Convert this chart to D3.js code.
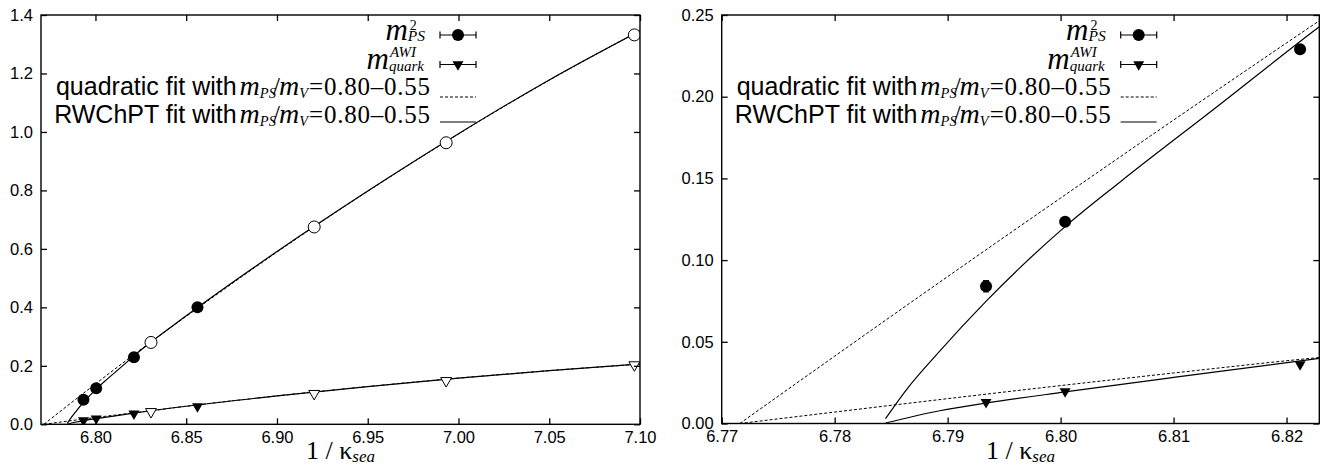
<!DOCTYPE html>
<html>
<head>
<meta charset="utf-8">
<script src="https://cdn.jsdelivr.net/npm/d3@7"></script>
<style>
  body { margin: 0; background: #fff; }
  svg { display: block; }
</style>
</head>
<body>
<svg id="chart" width="1337" height="466"></svg>
<script>
// ---- ensembles inside the fit range (filled symbols) ----
const kappaFit   = [6.7934, 6.8004, 6.8212, 6.8562];   // 1/kappa_sea
const mps2Fit    = [0.084, 0.1235, 0.229, 0.4004];
const mps2FitErr = [0.0035, 0.0018, 0.0018, 0.003];
const mqFit      = [0.0130, 0.0197, 0.0362, 0.0610];
const mqFitErr   = [0.0008, 0.0006, 0.0006, 0.0008];

// ---- heavier ensembles outside the fit range (open symbols) ----
const kappaOut = [6.8306, 6.9205, 6.9932, 7.0969];
const mps2Out  = [0.280, 0.675, 0.963, 1.332];
const mqOut    = [0.043, 0.105, 0.149, 0.203];

// ---- fit curves ----
const quadPsX = [6.7716, 6.78, 6.79, 6.80, 6.81, 6.82, 6.8229, 6.85, 6.90, 6.95, 7.00, 7.05, 7.10];
const quadPsY = [0.0, 0.0412, 0.0899, 0.1380, 0.1857, 0.2329, 0.2465, 0.369, 0.589, 0.797, 0.993, 1.177, 1.346];
const rwPsX   = [6.7845, 6.7865, 6.7890, 6.7935, 6.8004, 6.8053, 6.8135, 6.8229, 6.85, 6.90, 6.95, 7.00, 7.05, 7.10];
const rwPsY   = [0.003, 0.022, 0.042, 0.0755, 0.1205, 0.148, 0.192, 0.2428, 0.371, 0.591, 0.798, 0.994, 1.178, 1.346];
const quadMqX = [6.7716, 6.78, 6.79, 6.80, 6.81, 6.82, 6.8229, 6.85, 6.90, 6.95, 7.00, 7.05, 7.10];
const quadMqY = [0.0, 0.0070, 0.0152, 0.0232, 0.0309, 0.0384, 0.0404, 0.0619, 0.0971, 0.1292, 0.1580, 0.1835, 0.2060];
const rwMqX   = [6.7845, 6.7893, 6.7935, 6.8004, 6.8100, 6.8229, 6.85, 6.90, 6.95, 7.00, 7.05, 7.10];
const rwMqY   = [0.0003, 0.0078, 0.0126, 0.0193, 0.0282, 0.0398, 0.0617, 0.0970, 0.1291, 0.1579, 0.1834, 0.2060];

// ---- tick values ----
const leftXTicks  = [6.80, 6.85, 6.90, 6.95, 7.00, 7.05, 7.10];
const leftYTicks  = [0.0, 0.2, 0.4, 0.6, 0.8, 1.0, 1.2, 1.4];
const rightXTicks = [6.77, 6.78, 6.79, 6.80, 6.81, 6.82];
const rightYTicks = [0.00, 0.05, 0.10, 0.15, 0.20, 0.25];

// ---- legend text ----
const fitRange = "=0.80\u20130.55";
const quadLabel = "quadratic fit with";
const rwLabel = "RWChPT fit with";

const SERIF = "'Liberation Serif','Times New Roman',serif";
const SANS  = "'Liberation Sans',Arial,Helvetica,sans-serif";

const svg = d3.select("#chart");

const panels = [
  { id: "L", left: 41, right: 640, top: 15, bottom: 424.3,
    xDom: [6.77, 7.10], yDom: [0, 1.4], xTicks: leftXTicks, yTicks: leftYTicks,
    yFmt: d3.format(".1f") },
  { id: "R", left: 721.7, right: 1319.3, top: 15, bottom: 423.5,
    xDom: [6.77, 6.8229], yDom: [0, 0.25], xTicks: rightXTicks, yTicks: rightYTicks,
    yFmt: d3.format(".2f") }
];

const zip = (xs, ys) => xs.map((x, i) => [x, ys[i]]);

// Lay out a run of text pieces left to right, then right-align the run at xEnd.
function richText(g, pieces, xEnd, baseline) {
  const run = g.append("g");
  let cx = 0;
  const put = (p, x0) => {
    const t = run.append("text")
      .attr("x", x0).attr("y", p.shift || 0)
      .attr("font-family", p.family || SERIF)
      .attr("font-size", p.size)
      .attr("font-style", p.italic ? "italic" : "normal")
      .attr("fill", "#000")
      .text(p.t);
    if (p.len) t.attr("textLength", p.len).attr("lengthAdjust", "spacing");
    return p.len || t.node().getComputedTextLength();
  };
  pieces.forEach(p => {
    if (p.stack) {
      let w = 0;
      p.stack.forEach(s => { w = Math.max(w, put(s, cx + (s.dx || 0)) + (s.dx || 0)); });
      cx += w;
    } else {
      cx += (p.dx || 0);
      cx += put(p, cx);
    }
  });
  run.attr("transform", `translate(${xEnd - cx},${baseline})`);
}

function massRatio(prefix) {
  return [
    { t: prefix, size: 25, family: SANS },
    { t: "m", size: 28, italic: true, dx: 3 },
    { t: "PS", size: 14.5, italic: true, shift: 3 },
    { t: "/", size: 25, dx: -3 },
    { t: "m", size: 28, italic: true, dx: -1 },
    { t: "V", size: 14.5, italic: true, shift: 3 },
    { t: fitRange, size: 25, dx: 1, len: 121 }
  ];
}

panels.forEach(P => {
  const x = d3.scaleLinear().domain(P.xDom).range([P.left, P.right]);
  const y = d3.scaleLinear().domain(P.yDom).range([P.bottom, P.top]);
  const g = svg.append("g");

  const clipId = "clip" + P.id;
  svg.append("clipPath").attr("id", clipId)
    .append("rect")
    .attr("x", P.left).attr("y", P.top)
    .attr("width", P.right - P.left).attr("height", P.bottom - P.top);

  const plot = g.append("g").attr("clip-path", `url(#${clipId})`);
  const line = d3.line().x(d => x(d[0])).y(d => y(d[1])).curve(d3.curveMonotoneX);

  const curves = [
    { pts: zip(quadPsX, quadPsY), dash: "3,2" },
    { pts: zip(quadMqX, quadMqY), dash: "3,2" },
    { pts: zip(rwPsX, rwPsY), dash: null },
    { pts: zip(rwMqX, rwMqY), dash: null }
  ];
  curves.forEach(c => {
    plot.append("path").datum(c.pts)
      .attr("d", line)
      .attr("fill", "none")
      .attr("stroke", "#000")
      .attr("stroke-width", c.dash ? 1 : 1.2)
      .attr("stroke-dasharray", c.dash);
  });

  const inX = v => v >= P.xDom[0] && v <= P.xDom[1];
  const circle = d3.symbol().type(d3.symbolCircle).size(Math.PI * 36);
  const tri = d3.symbol().type(d3.symbolTriangle).size(52);

  // error bars
  const errs = [];
  kappaFit.forEach((k, i) => {
    errs.push([k, mps2Fit[i], mps2FitErr[i]]);
    errs.push([k, mqFit[i], mqFitErr[i]]);
  });
  plot.selectAll(null).data(errs.filter(d => inX(d[0]))).join("path")
    .attr("d", d => {
      const cx = x(d[0]), y0 = y(d[1] - d[2]), y1 = y(d[1] + d[2]);
      return `M${cx},${y0}V${y1}M${cx - 3},${y0}H${cx + 3}M${cx - 3},${y1}H${cx + 3}`;
    })
    .attr("stroke", "#000").attr("stroke-width", 1).attr("fill", "none");

  // open symbols
  plot.selectAll(null).data(zip(kappaOut, mps2Out).filter(d => inX(d[0]))).join("path")
    .attr("d", circle)
    .attr("transform", d => `translate(${x(d[0])},${y(d[1])})`)
    .attr("fill", "#fff").attr("stroke", "#000").attr("stroke-width", 1);
  plot.selectAll(null).data(zip(kappaOut, mqOut).filter(d => inX(d[0]))).join("path")
    .attr("d", tri)
    .attr("transform", d => `translate(${x(d[0])},${y(d[1])}) rotate(180)`)
    .attr("fill", "#fff").attr("stroke", "#000").attr("stroke-width", 1);

  // filled symbols
  plot.selectAll(null).data(zip(kappaFit, mps2Fit).filter(d => inX(d[0]))).join("path")
    .attr("d", circle)
    .attr("transform", d => `translate(${x(d[0])},${y(d[1])})`)
    .attr("fill", "#000");
  plot.selectAll(null).data(zip(kappaFit, mqFit).filter(d => inX(d[0]))).join("path")
    .attr("d", tri)
    .attr("transform", d => `translate(${x(d[0])},${y(d[1])}) rotate(180)`)
    .attr("fill", "#000");

  // axes: labelled bottom/left, mirrored ticks on top/right, all pointing inward
  const style = a => {
    a.select(".domain").remove();
    a.selectAll(".tick line").attr("stroke", "#000").attr("stroke-width", 1.3);
    a.selectAll("text").attr("font-family", SANS).attr("font-size", 16.5).attr("fill", "#000");
  };
  g.append("g").attr("transform", `translate(0,${P.bottom})`)
    .call(d3.axisBottom(x).tickValues(P.xTicks).tickFormat(d3.format(".2f")).tickSize(-6).tickPadding(7))
    .call(style);
  g.append("g").attr("transform", `translate(0,${P.top})`)
    .call(d3.axisTop(x).tickValues(P.xTicks).tickFormat("").tickSize(-6))
    .call(style);
  g.append("g").attr("transform", `translate(${P.left},0)`)
    .call(d3.axisLeft(y).tickValues(P.yTicks).tickFormat(P.yFmt).tickSize(-6).tickPadding(8))
    .call(style);
  g.append("g").attr("transform", `translate(${P.right},0)`)
    .call(d3.axisRight(y).tickValues(P.yTicks).tickFormat("").tickSize(-6))
    .call(style);

  g.append("rect")
    .attr("x", P.left).attr("y", P.top)
    .attr("width", P.right - P.left).attr("height", P.bottom - P.top)
    .attr("fill", "none").attr("stroke", "#000").attr("stroke-width", 1.4);

  // x-axis title
  const title = g.append("text")
    .attr("x", (P.left + P.right) / 2).attr("y", 459)
    .attr("text-anchor", "middle")
    .attr("font-family", SERIF).attr("font-size", 26).attr("fill", "#000");
  title.append("tspan").text("1 / \u03BA");
  title.append("tspan").attr("font-size", 17).attr("font-style", "italic").attr("dy", 3).text("sea");

  // legend
  const lg = g.append("g");
  const sx0 = P.left + 399, sx1 = P.left + 435, sxm = (sx0 + sx1) / 2;
  const rows = [
    { base: P.top + 24.5, sample: P.top + 20, kind: "circle", end: P.left + 384,
      pieces: [{ t: "m", size: 31, italic: true },
               { stack: [{ t: "2", size: 14, shift: -10, dx: 2 }, { t: "PS", size: 15.5, italic: true, shift: 1 }] }] },
    { base: P.top + 53.5, sample: P.top + 49.5, kind: "tri", end: P.left + 383,
      pieces: [{ t: "m", size: 31, italic: true },
               { stack: [{ t: "AWI", size: 15, italic: true, shift: -12, dx: 1 }, { t: "quark", size: 15, italic: true, shift: 2 }] }] },
    { base: P.top + 79.5, sample: P.top + 82, kind: "dash", end: P.left + 389, pieces: massRatio(quadLabel) },
    { base: P.top + 108, sample: P.top + 107, kind: "solid", end: P.left + 389, pieces: massRatio(rwLabel) }
  ];
  rows.forEach(r => {
    richText(lg, r.pieces, r.end, r.base);
    if (r.kind === "circle" || r.kind === "tri") {
      lg.append("path")
        .attr("d", `M${sx0},${r.sample}H${sx1}M${sx0},${r.sample - 3.5}V${r.sample + 3.5}M${sx1},${r.sample - 3.5}V${r.sample + 3.5}`)
        .attr("stroke", "#000").attr("stroke-width", 1.2).attr("fill", "none");
      lg.append("path")
        .attr("d", r.kind === "circle" ? circle : tri)
        .attr("transform", `translate(${sxm},${r.sample})` + (r.kind === "tri" ? " rotate(180)" : ""))
        .attr("fill", "#000");
    } else {
      lg.append("line")
        .attr("x1", sx0).attr("x2", sx1).attr("y1", r.sample).attr("y2", r.sample)
        .attr("stroke", "#000").attr("stroke-width", r.kind === "dash" ? 1 : 1.2)
        .attr("stroke-dasharray", r.kind === "dash" ? "3,2" : null);
    }
  });
});
</script>
</body>
</html>
